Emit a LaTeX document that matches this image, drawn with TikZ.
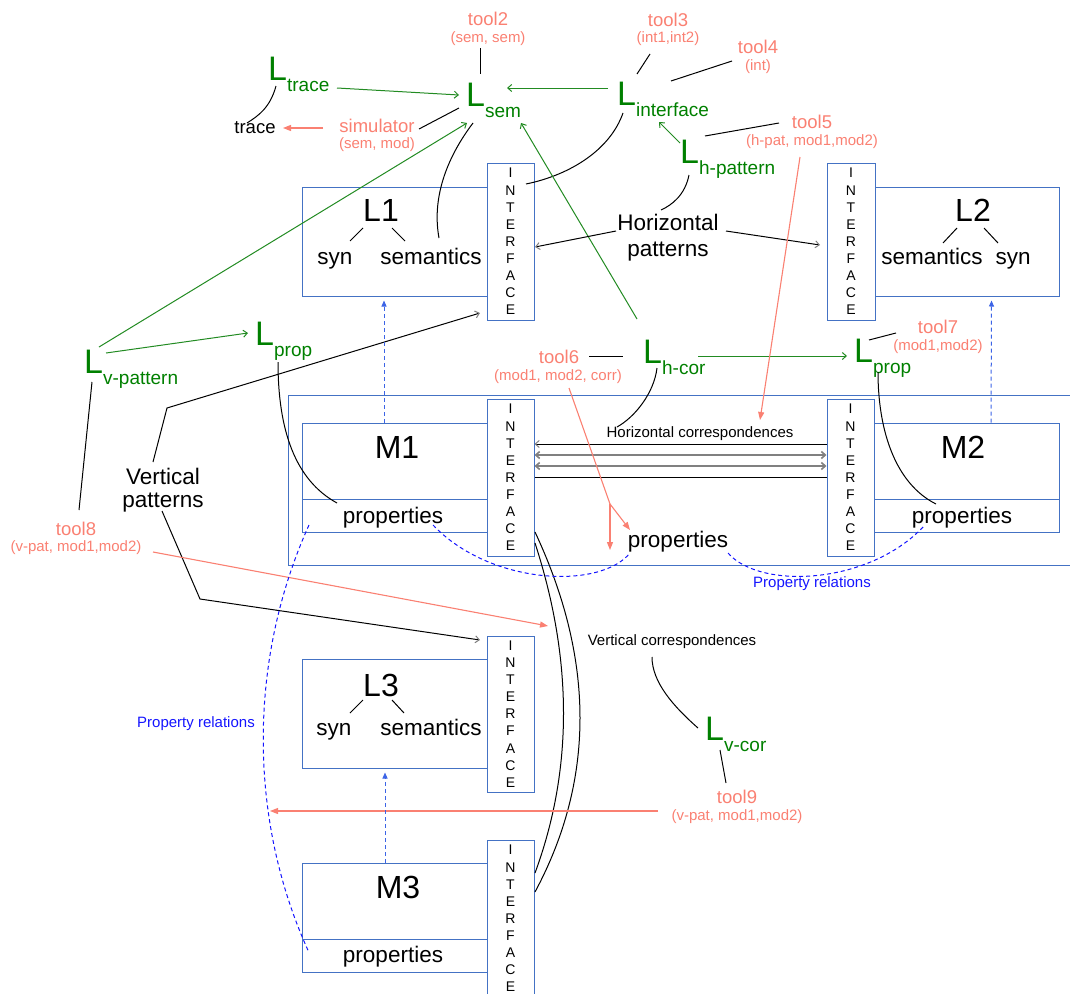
\documentclass[tikz,border=0pt]{standalone}
\usepackage{fontspec}
\setmainfont{Liberation Sans}
\usetikzlibrary{arrows.meta,calc}
\definecolor{Lgreen}{RGB}{0,128,0}
\definecolor{agreen}{RGB}{34,139,34}
\definecolor{salmonc}{RGB}{250,128,114}
\definecolor{boxblue}{RGB}{68,114,196}
\definecolor{dblue}{RGB}{20,20,255}
\definecolor{vblue}{RGB}{60,100,230}
\newcommand\fz[2]{\fontsize{#1}{#2}\selectfont}
\newcommand\LL[1]{{\fz{34}{34}L}\raisebox{-11pt}{\fz{19}{19}#1}}
\newcommand\IFACE{I\\N\\T\\E\\R\\F\\A\\C\\E}
\begin{document}
\begin{tikzpicture}[x=1pt,y=-1pt,
  box/.style={draw=boxblue,line width=1pt,inner sep=0pt},
  iface/.style={box,minimum width=47pt,minimum height=157pt,align=center,font=\fz{14}{17.1}},
  txt/.style={inner sep=0pt,font=\fz{22.5}{26}},
  btxt/.style={txt,anchor=base},
  bigt/.style={inner sep=0pt,font=\fz{32}{32}},
  tooltitle/.style={inner sep=0pt,text=salmonc,font=\fz{18.5}{20}},
  toolarg/.style={inner sep=0pt,text=salmonc,font=\fz{15}{16}},
  smalltxt/.style={inner sep=0pt,font=\fz{15}{16}},
  Lnode/.style={anchor=base west,inner sep=0pt,text=Lgreen},
  ln/.style={line width=1pt},
  garr/.style={agreen,line width=1pt,-{Straight Barb[length=4pt,width=7pt]}},
  rarr/.style={salmonc,line width=1.1pt,-{Triangle[length=8pt,width=6pt]}},
  rline/.style={salmonc,line width=1.1pt},
  harr/.style={line width=1pt,-{Straight Barb[length=4pt,width=7pt,color=gray]}},
  barr/.style={vblue,line width=1pt,dash pattern=on 4pt off 3pt,-{Triangle[length=6pt,width=5pt]}},
  pdash/.style={dblue,line width=1pt,dash pattern=on 4pt off 3pt},
]
\useasboundingbox (0,0) rectangle (1070,993);

% ---------- boxes ----------
\node[box,minimum width=185pt,minimum height=109pt] (boxL1) at (394.5,241.5) {};
\node[iface] (ifL1) at (510.5,241.5) {\IFACE};
\node[iface,minimum width=48pt] (ifL2) at (851,241.5) {\IFACE};
\node[box,minimum width=184pt,minimum height=109pt] (boxL2) at (967,241.5) {};

\draw[boxblue,line width=1pt] (1075,395) -| (288,565) -- (1075,565);

\node[box,minimum width=185pt,minimum height=76pt] (boxM1) at (394.5,461) {};
\node[box,minimum width=185pt,minimum height=33pt] (pbM1) at (394.5,515.5) {};
\node[iface] (ifM1) at (510.5,477.5) {\IFACE};
\node[iface] (ifM2) at (850.5,477.5) {\IFACE};
\node[box,minimum width=185pt,minimum height=76pt] (boxM2) at (966.5,461) {};
\node[box,minimum width=185pt,minimum height=33pt] (pbM2) at (966.5,515.5) {};

\node[box,minimum width=185pt,minimum height=109pt] (boxL3) at (394.5,713.5) {};
\node[iface,minimum height=156pt] (ifL3) at (510.5,714) {\IFACE};
\node[box,minimum width=185pt,minimum height=76pt] (boxM3) at (394.5,901) {};
\node[box,minimum width=185pt,minimum height=33pt] (pbM3) at (394.5,955.5) {};
\node[iface] (ifM3) at (510.5,918.5) {\IFACE};

% ---------- box texts ----------
\node[bigt] (tL1) at (381,210) {L1};
\node[btxt] (synL1) at (335,264) {syn};
\node[btxt] (semL1) at (431,264) {semantics};
\node[bigt] (tL2) at (973,210) {L2};
\node[btxt] (semL2) at (932,264) {semantics};
\node[btxt] (synL2) at (1013,264) {syn};
\node[bigt] (tL3) at (381,685) {L3};
\node[btxt] (synL3) at (334,735.5) {syn};
\node[btxt] (semL3) at (431,735.5) {semantics};
\node[bigt] (tM1) at (397,447) {M1};
\node[btxt] (propM1) at (393,523) {properties};
\node[bigt] (tM2) at (963,447) {M2};
\node[btxt] (propM2) at (962,523) {properties};
\node[bigt] (tM3) at (398,887) {M3};
\node[btxt] (propM3) at (393,962.5) {properties};
\node[btxt] (propMid) at (678,547) {properties};

\draw[ln] ($(tL1)+(-18,18)$) -- ($(synL1.base)+(15,-23)$);
\draw[ln] ($(tL1)+(11,18)$) -- ($(semL1.base)+(-26,-23)$);
\draw[ln] ($(tL2)+(-16,18)$) -- ($(semL2.base)+(11,-21)$);
\draw[ln] ($(tL2)+(11,18)$) -- ($(synL2.base)+(-15,-21)$);
\draw[ln] ($(tL3)+(-18,15)$) -- ($(synL3.base)+(16,-22.5)$);
\draw[ln] ($(tL3)+(11,15)$) -- ($(semL3.base)+(-27,-22.5)$);

% ---------- other texts ----------
\node[txt,align=center] (hpat) at (668,238) {Horizontal\\patterns};
\node[txt,align=center,font=\fz{22.5}{23}] (vpat) at (163,490) {Vertical\\patterns};
\node[smalltxt] (hcorr) at (700,434) {Horizontal correspondences};
\node[smalltxt] (vcorr) at (672,642) {Vertical correspondences};
\node[smalltxt,text=dblue] (prelR) at (812,584) {Property relations};
\node[smalltxt,text=dblue] (prelL) at (196,724) {Property relations};
\node[inner sep=0pt,font=\fz{18.5}{20}] (trace) at (255,128) {trace};

\node[tooltitle] (tool2) at (488,19) {tool2};
\node[toolarg] (tool2a) at (488,39) {(sem, sem)};
\node[tooltitle] (tool3) at (668,20) {tool3};
\node[toolarg] (tool3a) at (668,39) {(int1,int2)};
\node[tooltitle] (tool4) at (758,47) {tool4};
\node[toolarg] (tool4a) at (758,67) {(int)};
\node[tooltitle] (tool5) at (812,122) {tool5};
\node[toolarg] (tool5a) at (812,142) {(h-pat, mod1,mod2)};
\node[tooltitle] (tool6) at (559,357) {tool6};
\node[toolarg] (tool6a) at (558,377) {(mod1, mod2, corr)};
\node[tooltitle] (tool7) at (938,327) {tool7};
\node[toolarg] (tool7a) at (938,347) {(mod1,mod2)};
\node[tooltitle] (tool8) at (76,529) {tool8};
\node[toolarg] (tool8a) at (76,548) {(v-pat, mod1,mod2)};
\node[tooltitle] (tool9) at (737,797) {tool9};
\node[toolarg] (tool9a) at (737,817) {(v-pat, mod1,mod2)};
\node[tooltitle] (simulator) at (377,126) {simulator};
\node[toolarg] (simA) at (377,145) {(sem, mod)};

% ---------- L languages ----------
\node[Lnode] (Ltrace) at (268,80) {\LL{trace}};
\node[Lnode] (Lsem) at (466,106) {\LL{sem}};
\node[Lnode] (Linterface) at (617,105) {\LL{interface}};
\node[Lnode] (Lhpat) at (680,163) {\LL{h-pattern}};
\node[Lnode] (LpropL) at (255,345) {\LL{prop}};
\node[Lnode] (Lvpat) at (84,373) {\LL{v-pattern}};
\node[Lnode] (Lhcor) at (643,363) {\LL{h-cor}};
\node[Lnode] (LpropR) at (854,362) {\LL{prop}};
\node[Lnode] (Lvcor) at (705,740) {\LL{v-cor}};

% ---------- black tool links ----------
\draw[ln] ($(tool2a)+(-8,9)$) -- ($(Lsem.base west)+(14,-32)$);
\draw[ln] ($(tool3a)+(-18,15)$) -- ($(Linterface.base west)+(20,-31)$);
\draw[ln] ($(tool4a)+(-26,-6)$) -- ($(Linterface.base west)+(54,-24)$);
\draw[ln] ($(tool5)+(-33,1)$) -- ($(Lhpat.base west)+(25,-27)$);
\draw[ln] ($(simulator)+(42,3)$) -- ($(Lsem.base west)+(-7,2)$);
\draw[ln] ($(tool6)+(30,-1)$) -- ($(Lhcor.base west)+(-20,-7)$);
\draw[ln] ($(tool7)+(-42,6)$) -- ($(LpropR.base west)+(15,-22)$);
\draw[ln] ($(Lvpat.base west)+(8,9)$) -- ($(tool8)+(3,-19)$);
\draw[ln] ($(tool9)+(-11,-14)$) -- ($(Lvcor.base west)+(15,10)$);

% ---------- curves ----------
\coordinate (a1) at ($(Ltrace.base west)+(8,6)$);
\coordinate (b1) at ($(trace)+(-8,-5)$);
\draw[ln] (a1) .. controls ($(a1)+(-6,22)$) and ($(b1)+(11,-7)$) .. (b1);
\coordinate (a2) at ($(Lsem.base west)+(7,17)$);
\coordinate (b2) at ($(semL1.base)+(8,-26)$);
\draw[ln] (a2) .. controls ($(a2)+(-28,37)$) and ($(b2)+(-7,-38)$) .. (b2);
\coordinate (a3) at ($(Linterface.base west)+(6,8)$);
\coordinate (b3) at ($(ifL1)+(15.5,-57.5)$);
\draw[ln] (a3) .. controls ($(a3)+(-13,37)$) and ($(b3)+(44,-9)$) .. (b3);
\coordinate (a4) at ($(Lhpat.base west)+(9,12)$);
\coordinate (b4) at ($(hpat)+(-7,-28)$);
\draw[ln] (a4) .. controls ($(a4)+(-4,20)$) and ($(b4)+(11,-5)$) .. (b4);
\coordinate (a5) at ($(Lhcor.base west)+(14,5)$);
\coordinate (b5) at ($(hcorr)+(-83,-7)$);
\draw[ln] (a5) .. controls ($(a5)+(-3,25)$) and ($(b5)+(18,-10)$) .. (b5);
\coordinate (a6) at ($(LpropL.base west)+(23,17)$);
\coordinate (b6) at ($(propM1.base)+(-56,-20)$);
\draw[ln] (a6) .. controls ($(a6)+(0,68)$) and ($(b6)+(-42,-23)$) .. (b6);
\coordinate (a7) at ($(LpropR.base west)+(24,10)$);
\coordinate (b7) at ($(propM2.base)+(-26,-19)$);
\draw[ln] (a7) .. controls ($(a7)+(0,60)$) and ($(b7)+(-40,-20)$) .. (b7);
\coordinate (a8) at ($(vcorr)+(-20,15)$);
\coordinate (b8) at ($(Lvcor.base west)+(-7,-12)$);
\draw[ln] (a8) .. controls ($(a8)+(0,25)$) and ($(b8)+(-25,-22)$) .. (b8);
\coordinate (a9) at ($(ifM1)+(24.5,54.5)$);
\coordinate (b9) at ($(ifM3)+(24.5,-26.5)$);
\draw[ln] (a9) .. controls ($(a9)+(60,128)$) and ($(b9)+(60,-112)$) .. (b9);
\coordinate (a10) at ($(ifM1)+(24.5,65.5)$);
\coordinate (b10) at ($(ifM3)+(24.5,-45.5)$);
\draw[ln] (a10) .. controls ($(a10)+(38,117)$) and ($(b10)+(38,-103)$) .. (b10);

% ---------- green language arrows ----------
\draw[garr] ($(Ltrace.base west)+(69,8)$) -- ($(Lsem.base west)+(-7,-11)$);
\draw[garr] ($(Linterface.base west)+(-9,-17)$) -- ($(Lsem.base west)+(41,-18)$);
\draw[garr] ($(Lhpat.base west)+(0,-20)$) -- ($(Linterface.base west)+(42,17)$);
\draw[garr] ($(Lvpat.base west)+(15,-26)$) -- ($(Lsem.base west)+(1,17)$);
\draw[garr] ($(Lvpat.base west)+(22,-20)$) -- ($(LpropL.base west)+(-7,-12)$);
\draw[garr] ($(Lhcor.base west)+(-6,-44)$) -- ($(Lsem.base west)+(55,17)$);
\draw[garr] ($(Lhcor.base west)+(55,-7)$) -- ($(LpropR.base west)+(-7,-6)$);

% ---------- pattern arrows ----------
\draw[harr] ($(hpat)+(-52,-7)$) -- ($(ifL1)+(24.5,5.5)$);
\draw[harr] ($(hpat)+(58,-7)$) -- ($(ifL2)+(-31,3.5)$);
\draw[harr] ($(vpat)+(-10,-28)$) -- ($(vpat)+(4,-82)$) -- ($(ifL1)+(-30.5,71.5)$);
\draw[harr] ($(vpat)+(-1,21)$) -- ($(vpat)+(37,109)$) -- ($(ifL3)+(-30.5,-74)$);

% ---------- horizontal correspondences ----------
\draw[ln,{Straight Barb[length=4pt,width=7pt,color=gray]}-] ($(ifM1.east)+(0,-33.5)$) -- ($(ifM2.west)+(0,-33.5)$);
\draw[gray,line width=1.6pt,{Straight Barb[length=4pt,width=7pt]}-{Straight Barb[length=4pt,width=7pt]}] ($(ifM1.east)+(0,-22.5)$) -- ($(ifM2.west)+(0,-22.5)$);
\draw[gray,line width=1.6pt,{Straight Barb[length=4pt,width=7pt]}-{Straight Barb[length=4pt,width=7pt]}] ($(ifM1.east)+(0,-11.5)$) -- ($(ifM2.west)+(0,-11.5)$);
\draw[ln] ($(ifM1.east)+(0,-0.5)$) -- ($(ifM2.west)+(0,-0.5)$);

% ---------- red tool arrows ----------
\draw[rarr] ($(simulator)+(-54,2)$) -- ($(trace)+(28,0)$);
\draw[rarr] ($(tool5a)+(-12,15)$) -- ($(hcorr)+(60,-14)$);
\coordinate (j6) at ($(propMid.base)+(-68,-43)$);
\draw[rline] ($(tool6a)+(11,11)$) -- (j6);
\draw[rarr] (j6) -- ($(propMid.base)+(-68,3)$);
\draw[rarr] (j6) -- ($(propMid.base)+(-48,-17)$);
\draw[rarr] ($(tool8a)+(77,4)$) -- ($(ifL3)+(37.5,-88)$);
\draw[rarr] ($(tool9a)+(-79,-6)$) -- ($(boxM3)+(-124.5,-90)$);

% ---------- blue dashed ----------
\draw[barr] ($(boxM1.north)+(-10.5,0)$) -- ($(boxL1.south)+(-10.5,4)$);
\draw[barr] ($(boxM2.north)+(24.5,0)$) -- ($(boxL2.south)+(24.5,4)$);
\draw[barr] ($(boxM3.north)+(-9.5,0)$) -- ($(boxL3.south)+(-9.5,4)$);

\coordinate (p1) at ($(propM1.base)+(40,2)$);
\coordinate (q1) at ($(propMid.base)+(-48,6)$);
\draw[pdash] (p1) .. controls ($(p1)+(57,60)$) and ($(q1)+(-30,37)$) .. (q1);
\coordinate (p2) at ($(propMid.base)+(50,6)$);
\coordinate (q2) at ($(propM2.base)+(-37,2)$);
\draw[pdash] (p2) .. controls ($(p2)+(32,37)$) and ($(q2)+(-55,60)$) .. (q2);
\coordinate (p3) at ($(propM1.base)+(-84,2)$);
\coordinate (q3) at ($(propM3.base)+(-84,-10)$);
\draw[pdash] (p3) .. controls ($(p3)+(-61,135)$) and ($(q3)+(-61,-133)$) .. (q3);
\end{tikzpicture}
\end{document}
